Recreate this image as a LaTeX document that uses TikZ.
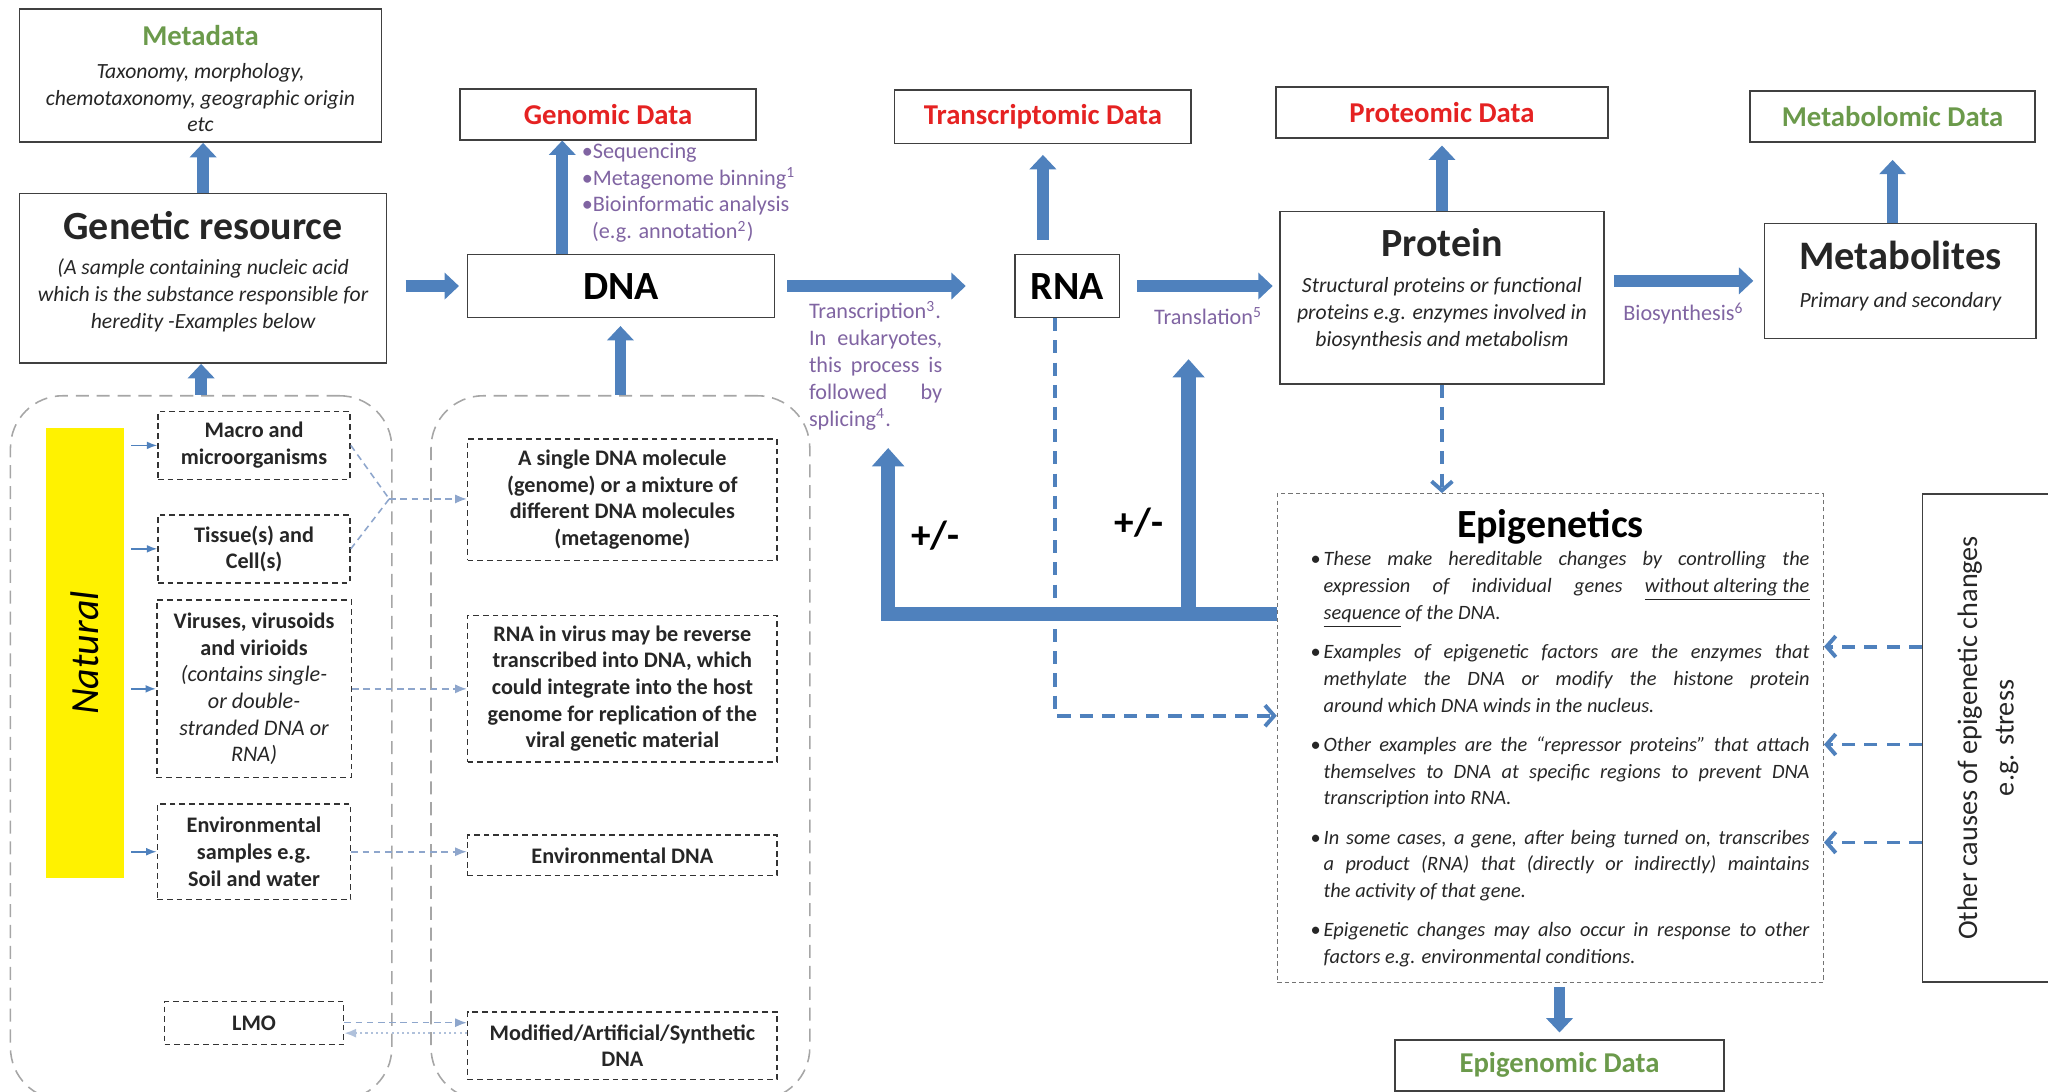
\documentclass[tikz,border=0pt]{standalone}
\usepackage{fontspec}
\setmainfont{Carlito}
\usetikzlibrary{arrows.meta, calc, positioning}
\definecolor{flowblue}{HTML}{4F81BD}
\definecolor{linkblue}{HTML}{8EA6CC}
\definecolor{notepurple}{HTML}{8064A2}
\definecolor{datared}{HTML}{E52222}
\definecolor{datagreen}{HTML}{6B9A4B}
\tikzstyle{block} = [rectangle, draw=black!75, line width=0.6pt, inner sep=0pt]
\tikzstyle{databox} = [block, font=\bfseries\fontsize{11}{13}\selectfont]
\tikzstyle{samplebox} = [rectangle, draw=black!80, line width=0.6pt, dash pattern=on 2.2pt off 1.5pt, align=center, inner sep=0pt, text=black!85, font=\bfseries\fontsize{8.5}{10.2}\selectfont]
\tikzstyle{groupbox} = [rectangle, draw=black!35, line width=0.6pt, dash pattern=on 5pt off 3pt, rounded corners=20pt]
\tikzstyle{epibox} = [rectangle, draw=black!55, line width=0.5pt, dash pattern=on 1.6pt off 1.2pt]
\tikzstyle{boxtext} = [anchor=north, inner sep=0pt, align=center, text=black!85, font=\itshape\fontsize{8.3}{10.25}\selectfont]
\tikzstyle{notetext} = [inner sep=0pt, text=notepurple, font=\fontsize{8.5}{10.3}\selectfont]
\tikzstyle{flow} = [draw=flowblue, line width=4.5pt, -{Triangle[length=5.5pt, width=10pt]}]
\tikzstyle{feedback} = [draw=flowblue, line width=5.5pt, -{Triangle[length=7pt, width=12pt]}]
\tikzstyle{dline} = [draw=flowblue, line width=1.5pt, dash pattern=on 5pt off 3.5pt, -{Straight Barb[length=3.5pt, width=8pt]}]
\tikzstyle{link} = [draw=linkblue, line width=0.6pt, dash pattern=on 2.5pt off 1.8pt, -{Latex[length=4.5pt, width=3.5pt]}]
\tikzstyle{dotlink} = [draw=linkblue!70, line width=0.8pt, dash pattern=on 0.8pt off 1.2pt, -{Latex[length=4.5pt, width=3.5pt]}]
\tikzstyle{tickarrow} = [draw=flowblue, line width=0.6pt, -{Latex[length=4pt, width=3pt]}]

\begin{document}
\begin{tikzpicture}[x=0.5pt, y=-0.5pt]
        \useasboundingbox (0,0) rectangle (1568,836);

        \node[groupbox, minimum width=146pt, minimum height=269.5pt] (13) at (154,572.5) {};

        \node[groupbox, minimum width=145pt, minimum height=269.5pt] (20) at (475,572.5) {};

        \node[block, minimum width=140.5pt, minimum height=65pt] (01) at (155.5,213) {};
        \node[boxtext] (01a) at ([yshift=-7pt]01.north) {{\upshape\bfseries\fontsize{15.3}{18}\selectfont Genetic resource}\\[3.2pt](A sample containing nucleic acid\\which is the substance responsible for\\heredity -Examples below};

        \node[block, minimum width=138.5pt, minimum height=51pt, above=19pt of 01, xshift=-1pt] (00) {};
        \node[boxtext] (00a) at ([yshift=-6.5pt]00.north) {{\upshape\bfseries\fontsize{11}{13}\selectfont\color{datagreen}Metadata}\\[2.2pt]Taxonomy, morphology,\\chemotaxonomy, geographic origin\\etc};
        \path[flow] (01.north) -- (01.north |- 00.south);
        \path[flow] (13.north) -- (13.north |- 01.south);

        \node[block, minimum width=117.5pt, minimum height=24pt, font=\bfseries\fontsize{15.3}{18}\selectfont] (03) at (475.5,219) {DNA};
        \path[flow, shorten <=7pt, shorten >=3pt] (01.east |- 03.west) -- (03.west);
        \path[flow, shorten >=3pt] (20.north) -- (20.north |- 03.south);

        \node[databox, text=datared, minimum width=113.5pt, minimum height=19.5pt] (02) at (465.5,87.5) {Genomic Data};
        \coordinate (c0) at ($(03.north)+(-45,0)$);
        \path[flow] (c0) -- (c0 |- 02.south);

        \node[notetext, anchor=north west, align=left] (25) at (445,109) {\textbullet Sequencing\\\textbullet Metagenome binning\textsuperscript{1}\\\textbullet Bioinformatic analysis\\\hspace*{4pt}(e.g. annotation\textsuperscript{2})};

        \node[block, minimum width=40pt, minimum height=24pt, font=\bfseries\fontsize{15.3}{18}\selectfont] (05) at (817,219) {RNA};
        \path[flow, shorten <=4.5pt, shorten >=18.5pt] (03.east) -- (05.west);

        \node[notetext, anchor=north west, text width=51pt, align=justify] (26) at (619,230) {Transcription\textsuperscript{3}.\linebreak In eukaryotes,\linebreak this process is\linebreak followed by\linebreak splicing\textsuperscript{4}.};

        \node[databox, text=datared, minimum width=113.5pt, minimum height=20.5pt] (04) at (798.5,89.5) {Transcriptomic Data};
        \path[flow, shorten <=5.5pt, shorten >=4pt] (05.north -| 04.south) -- (04.south);

        \node[block, minimum width=124pt, minimum height=66pt] (07) at (1104,228) {};
        \node[boxtext] (07a) at ([yshift=-6.5pt]07.north) {{\upshape\bfseries\fontsize{15.3}{18}\selectfont Protein}\\[3.75pt]Structural proteins or functional\\proteins e.g. enzymes involved in\\biosynthesis and metabolism};
        \path[flow, shorten <=6.5pt, shorten >=2.5pt] (05.east) -- (07.west |- 05.east);

        \node[notetext] (27) at (925,242) {Translation\textsuperscript{5}};

        \node[databox, text=datared, minimum width=127pt, minimum height=19.5pt, above=27.5pt of 07] (06) {Proteomic Data};
        \path[flow, shorten >=2.5pt] (07.north) -- (06.south);

        \node[block, minimum width=104pt, minimum height=44pt] (09) at (1455,215) {};
        \node[boxtext] (09a) at ([yshift=-7pt]09.north) {{\upshape\bfseries\fontsize{15.5}{18}\selectfont Metabolites}\\[4.25pt]Primary and secondary};
        \path[flow, shorten <=3.5pt, shorten >=4pt] (07.east |- 09.west) -- (09.west);

        \node[notetext] (28) at (1289,240) {Biosynthesis\textsuperscript{6}};

        \node[databox, text=datagreen, minimum width=109pt, minimum height=19.5pt, above=30.5pt of 09, xshift=-3pt] (08) {Metabolomic Data};
        \path[flow, shorten >=6.5pt] (09.north -| 08.south) -- (08.south);

        \node[epibox, minimum width=209pt, minimum height=187pt] (10) at (1187,565) {};
        \node[anchor=north, inner sep=0pt, font=\bfseries\fontsize{15.3}{18}\selectfont] (10a) at ([yshift=-6pt]10.north) {Epigenetics};
        \node[anchor=north west, inner sep=0pt, text width=191pt, align=justify, text=black!85, font=\itshape\fontsize{7.8}{10.25}\selectfont] (10b) at (1003,422) {\setlength{\parskip}{4.75pt}%
\hangindent=5pt\hangafter=1\noindent\makebox[5pt][l]{\upshape\textbullet}These make hereditable changes by controlling the\linebreak expression of individual genes \underline{without altering the}\linebreak\underline{sequence} of the DNA.\par
\hangindent=5pt\hangafter=1\noindent\makebox[5pt][l]{\upshape\textbullet}Examples of epigenetic factors are the enzymes that\linebreak methylate the DNA or modify the histone protein\linebreak around which DNA winds in the nucleus.\par
\hangindent=5pt\hangafter=1\noindent\makebox[5pt][l]{\upshape\textbullet}Other examples are the “repressor proteins” that attach\linebreak themselves to DNA at specific regions to prevent DNA\linebreak transcription into RNA.\par
\hangindent=5pt\hangafter=1\noindent\makebox[5pt][l]{\upshape\textbullet}In some cases, a gene, after being turned on, transcribes\linebreak a product (RNA) that (directly or indirectly) maintains\linebreak the activity of that gene.\par
\hangindent=5pt\hangafter=1\noindent\makebox[5pt][l]{\upshape\textbullet}Epigenetic changes may also occur in response to other\linebreak factors e.g. environmental conditions.\par};
        \path[dline] (07.south) -- (07.south |- 10.north);

        \node[databox, text=datagreen, minimum width=126pt, minimum height=19.5pt, below=21.5pt of 10, xshift=3.5pt] (11) {Epigenomic Data};
        \path[flow, shorten <=1.5pt, shorten >=2.5pt] (10.south -| 11.north) -- (11.north);

        \node[block, rotate=90, minimum width=187pt, minimum height=50pt, align=center, text=black!85, font=\fontsize{10.8}{14}\selectfont] (12) at (1522,565) {Other causes of epigenetic changes\\e.g. stress};
        \coordinate (c9) at (0,495);
        \coordinate (c10) at (0,570);
        \coordinate (c11) at (0,645);
        \path[dline] (12.north |- c9) -- (10.east |- c9);
        \path[dline] (12.north |- c10) -- (10.east |- c10);
        \path[dline] (12.north |- c11) -- (10.east |- c11);

        \coordinate (c5) at (808,548);
        \path[dline] (05.south -| c5) -- (c5) -- (10.west |- c5);

        \coordinate (c1) at (680,470);
        \coordinate (c2) at (910,470);
        \coordinate (c3) at (680,343);
        \coordinate (c4) at (910,275);
        \path[feedback] (10.west |- c1) -- (c1) -- (c3);
        \path[feedback] (c2) -- (c4);

        \node[font=\bfseries\fontsize{15}{18}\selectfont] (29) at (716,410) {+/-};
        \node[font=\bfseries\fontsize{15}{18}\selectfont] (30) at (872,400) {+/-};

        \node[fill=yellow, rotate=90, minimum width=172pt, minimum height=30pt, font=\itshape\fontsize{15.3}{18}\selectfont] (14) at (65,500) {Natural};

        \node[samplebox, minimum width=73.5pt, minimum height=26pt] (15) at (194.5,341) {Macro and\\microorganisms};

        \node[samplebox, minimum width=73.5pt, minimum height=26pt, below=13pt of 15] (16) {Tissue(s) and\\Cell(s)};

        \node[samplebox, minimum width=74.5pt, minimum height=68pt, below=6pt of 16] (17) {Viruses, virusoids\\and virioids\\{\mdseries\itshape (contains single-}\\{\mdseries\itshape or double-}\\{\mdseries\itshape stranded DNA or}\\{\mdseries\itshape RNA)}};

        \node[samplebox, minimum width=74pt, minimum height=36.5pt, below=9.5pt of 17] (18) {Environmental\\samples e.g.\\Soil and water};

        \node[samplebox, minimum width=68.5pt, minimum height=16.5pt, below=38.5pt of 18] (19) {LMO};

        \path[tickarrow, shorten <=2.5pt] (14.south |- 15.west) -- (15.west);
        \path[tickarrow, shorten <=2.5pt] (14.south |- 16.west) -- (16.west);
        \path[tickarrow, shorten <=2.5pt] (14.south |- 17.west) -- (17.west);
        \path[tickarrow, shorten <=2.5pt] (14.south |- 18.west) -- (18.west);

        \node[samplebox, minimum width=118.5pt, minimum height=46.5pt] (21) at (476.5,382.5) {A single DNA molecule\\(genome) or a mixture of\\different DNA molecules\\(metagenome)};

        \node[samplebox, minimum width=118.5pt, minimum height=56pt, below=20.5pt of 21] (22) {RNA in virus may be reverse\\transcribed into DNA, which\\could integrate into the host\\genome for replication of the\\viral genetic material};

        \node[samplebox, minimum width=118.5pt, minimum height=15.5pt, below=27.5pt of 22] (23) {Environmental DNA};

        \node[samplebox, minimum width=118.5pt, minimum height=26pt, below=51.5pt of 23] (24) {Modified/Artificial/Synthetic\\DNA};

        \coordinate (c6) at (298,382);
        \path[link, -] (15.east) -- (c6);
        \path[link, -] (16.east) -- (c6);
        \path[link] (c6) -- (21.west |- c6);
        \path[link] (17.east) -- (22.west |- 17.east);
        \path[link] (18.east) -- (23.west |- 18.east);
        \coordinate (c7) at (0,783);
        \coordinate (c8) at (0,791);
        \path[link] (19.east |- c7) -- (24.west |- c7);
        \path[dotlink] (24.west |- c8) -- (19.east |- c8);
    \end{tikzpicture}
\end{document}
